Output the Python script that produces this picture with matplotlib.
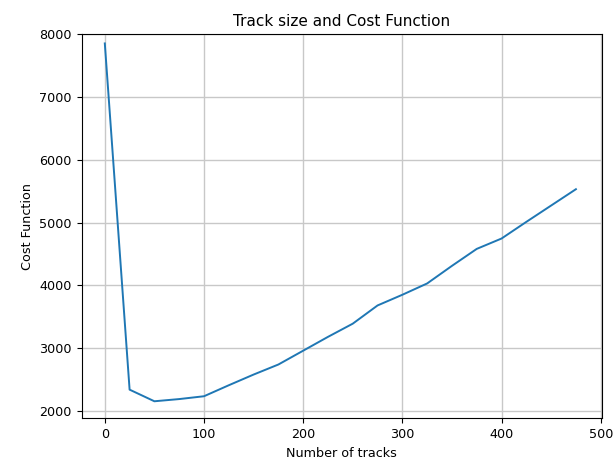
import matplotlib
matplotlib.use("Agg")
import matplotlib.pyplot as plt

tracks = [0, 25, 50, 75, 100, 125, 150, 175, 200, 225, 250, 275, 300, 325, 350, 375, 400, 425, 450, 475]
cost = [7850, 2340, 2155, 2190, 2235, 2410, 2580, 2740, 2960, 3180, 3390, 3680, 3850, 4030, 4310, 4580, 4745, 5010, 5270, 5530]

W, H = 613, 466
fig = plt.figure(figsize=(W / 100, H / 100), dpi=100)
ax = fig.add_axes([81.7 / W, 1 - 418.3 / H, (601.7 - 81.7) / W, (418.3 - 34) / H])
ax.plot(tracks, cost, color="#1f77b4", linewidth=1.4)
ax.set_xlim(-23.3, 501)
ax.set_ylim(1884, 8000)
ax.set_xticks([0, 100, 200, 300, 400, 500])
ax.set_yticks([2000, 3000, 4000, 5000, 6000, 7000, 8000])
ax.grid(True, color="#c8c8c8", linewidth=1)
ax.tick_params(labelsize=9.2)
ax.set_xlabel("Number of tracks", fontsize=9.2)
ax.set_ylabel("Cost Function", fontsize=9.2)
ax.set_title("Track size and Cost Function", fontsize=11)
fig.savefig("out.png", dpi=100)
